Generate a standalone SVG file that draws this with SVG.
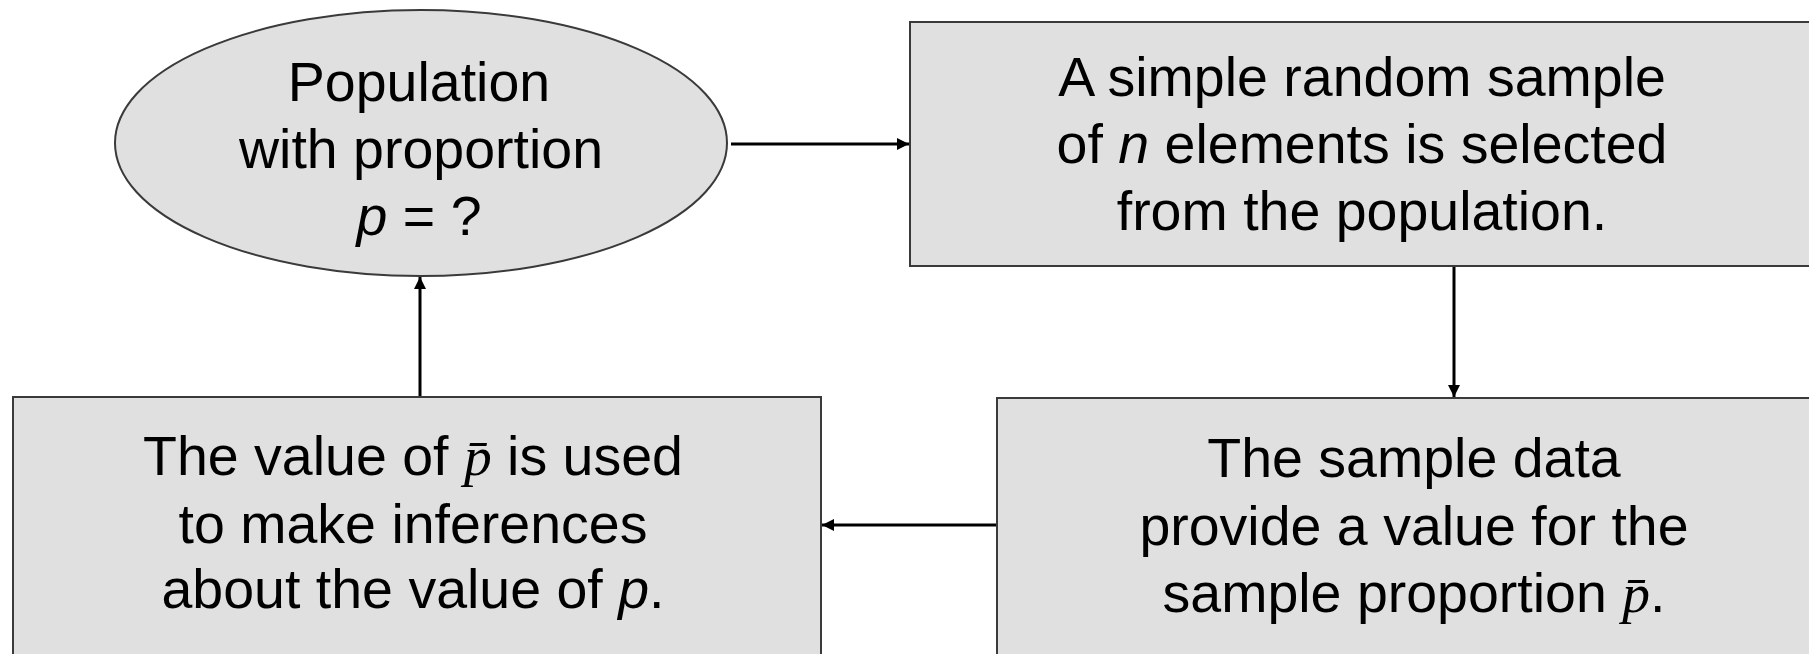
<svg xmlns="http://www.w3.org/2000/svg" width="1809" height="654" viewBox="0 0 1809 654">
<style>
.n{fill:#e0e0e0;stroke:#3a3a3a;stroke-width:2}
.t{font-family:"Liberation Sans",Arial,sans-serif;font-size:55.5px;fill:#000;text-anchor:middle}
.i{font-style:italic}
.s{font-family:"Liberation Serif","Times New Roman",serif;font-style:italic}
.c{stroke:#000;stroke-width:3;fill:none;marker-end:url(#ah)}
</style>
<defs>
<marker id="ah" viewBox="0 0 10 10" refX="10" refY="5" markerWidth="4" markerHeight="4" orient="auto" markerUnits="strokeWidth">
<path d="M0,0 L10,5 L0,10 z" fill="#000"/>
</marker>
</defs>
<rect width="1809" height="654" fill="#fff"/>
<g id="population">
<ellipse class="n" cx="421" cy="143" rx="306" ry="133"/>
<text class="t" x="419" y="101">Population</text>
<text class="t" x="421" y="168">with proportion</text>
<text class="t" x="419" y="235"><tspan class="i">p</tspan> = ?</text>
</g>
<g id="sample">
<rect class="n" x="910" y="22" width="920" height="244"/>
<text class="t" x="1362" y="96">A simple random sample</text>
<text class="t" x="1362" y="163">of <tspan class="i">n</tspan> elements is selected</text>
<text class="t" x="1362" y="230">from the population.</text>
</g>
<g id="data">
<rect class="n" x="997" y="398" width="830" height="270"/>
<text class="t" x="1414" y="477">The sample data</text>
<text class="t" x="1414" y="545">provide a value for the</text>
<text class="t" x="1414" y="612">sample proportion <tspan class="s">p̄</tspan>.</text>
</g>
<g id="inference">
<rect class="n" x="13" y="397" width="808" height="270"/>
<text class="t" x="413" y="475">The value of <tspan class="s">p̄</tspan> is used</text>
<text class="t" x="413" y="543">to make inferences</text>
<text class="t" x="413" y="608">about the value of <tspan class="i">p</tspan>.</text>
</g>
<g id="connectors">
<line class="c" x1="731" y1="144" x2="909" y2="144"/>
<line class="c" x1="1454" y1="267" x2="1454" y2="397"/>
<line class="c" x1="996" y1="525" x2="822" y2="525"/>
<line class="c" x1="420" y1="396" x2="420" y2="277"/>
</g>
</svg>
